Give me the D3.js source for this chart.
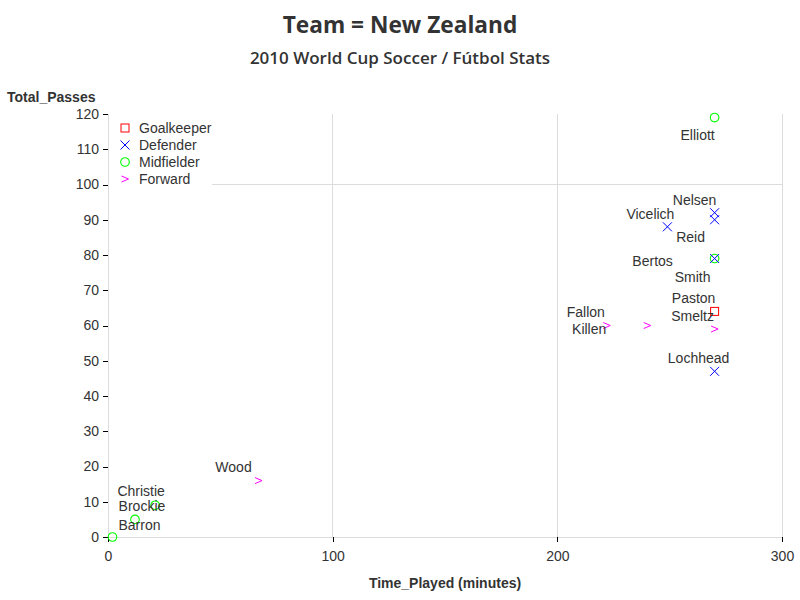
<!DOCTYPE html>
<html><head><meta charset="utf-8">
<script src="https://cdn.jsdelivr.net/npm/d3@7"></script>
<style>body{margin:0;background:#fff}</style>
</head><body>
<svg id="c" width="800" height="600"></svg>
<script>
// ---- data ----
const players = ["Elliott","Nelsen","Reid","Vicelich","Bertos","Smith","Paston","Smeltz","Fallon","Killen","Lochhead","Wood","Christie","Brockie","Barron"];
const positions = ["Midfielder","Defender","Defender","Defender","Midfielder","Defender","Goalkeeper","Forward","Forward","Forward","Defender","Forward","Midfielder","Midfielder","Midfielder"];
const timePlayed = [270,270,270,249,270,270,270,270,222,240,270,67,21,12,2];
const totalPasses = [119,92,90,88,79,79,64,59,60,60,47,16,9,5,0];
const legendItems = ["Goalkeeper","Defender","Midfielder","Forward"];
const xTicks = [0,100,200,300];
const yTicks = [0,10,20,30,40,50,60,70,80,90,100,110,120];
// label placement (pixel offsets of label centre from its marker)
const labelOffsets = [[-17,18],[-20,-13],[-24,17],[-17,-13],[-62,3],[-22,19],[-21,-13],[-22,-13],[-21,-13],[-58,4],[-16,-13],[-25,-14],[-14,-14],[7,-13],[27,-12]];

const colors = {Goalkeeper:"#ff0000",Defender:"#0000ff",Midfielder:"#00ff00",Forward:"#ff00ff"};
const textColor = "#333";
const svg = d3.select("#c");
const m = {l:108, r:782, t:114, b:537};
const x = d3.scaleLinear().domain([0,300]).range([m.l,m.r]);
const y = d3.scaleLinear().domain([0,120]).range([m.b,m.t]);

// gridlines
const grid = svg.append("g").attr("stroke","#dcdcdc").attr("stroke-width",1).attr("shape-rendering","crispEdges");
[100,200,300].forEach(v=>grid.append("line").attr("x1",x(v)).attr("x2",x(v)).attr("y1",m.t).attr("y2",m.b));
[100].forEach(v=>grid.append("line").attr("x1",m.l).attr("x2",m.r).attr("y1",y(v)).attr("y2",y(v)));
// axis lines (light)
grid.append("line").attr("x1",m.l).attr("x2",m.r).attr("y1",m.b).attr("y2",m.b);
grid.append("line").attr("x1",m.l).attr("x2",m.l).attr("y1",m.t).attr("y2",m.b);

// axes
const fontTick = "14px 'Liberation Sans', Arial, sans-serif";
const xAxis = svg.append("g").attr("transform",`translate(0,${m.b})`)
  .call(d3.axisBottom(x).tickValues(xTicks).tickSize(5).tickPadding(6).tickFormat(d3.format("d")));
const yAxis = svg.append("g").attr("transform",`translate(${m.l},0)`)
  .call(d3.axisLeft(y).tickValues(yTicks).tickSize(5).tickPadding(4).tickFormat(d3.format("d")));
[xAxis,yAxis].forEach(a=>{
  a.select(".domain").remove();
  a.selectAll(".tick line").attr("stroke","#000").attr("shape-rendering","crispEdges");
  a.selectAll(".tick text").attr("fill",textColor).style("font",fontTick);
});
xAxis.selectAll(".tick text").attr("dy","0.95em");

// markers
function marker(g, pos){
  const c = colors[pos];
  if(pos==="Goalkeeper") g.append("rect").attr("x",-4).attr("y",-4).attr("width",8).attr("height",8).attr("fill","none").attr("stroke",c);
  else if(pos==="Defender") g.append("path").attr("d","M-4.5,-4.5L4.5,4.5M-4.5,4.5L4.5,-4.5").attr("fill","none").attr("stroke",c);
  else if(pos==="Midfielder") g.append("circle").attr("r",4.3).attr("fill","none").attr("stroke",c).attr("stroke-width",1.1);
  else g.append("path").attr("d","M-3.5,-3L3.5,0L-3.5,3").attr("fill","none").attr("stroke",c);
}

// legend
const lg = svg.append("g");
lg.append("rect").attr("x",m.l+1).attr("y",m.t+1).attr("width",103).attr("height",73).attr("fill","#fff");
legendItems.forEach((p,i)=>{
  const g = lg.append("g").attr("transform",`translate(125,${128+i*17})`);
  marker(g,p);
  g.append("text").attr("x",14).attr("y",0).attr("dy","0.35em").attr("fill",textColor)
    .style("font",fontTick).text(p);
});

// points
const pts = svg.append("g");
players.forEach((n,i)=>{
  const g = pts.append("g").attr("transform",`translate(${x(timePlayed[i])},${y(totalPasses[i])})`);
  marker(g,positions[i]);
});
// labels
const lbl = svg.append("g");
players.forEach((n,i)=>{
  lbl.append("text").attr("x",x(timePlayed[i])+labelOffsets[i][0]).attr("y",y(totalPasses[i])+labelOffsets[i][1])
    .attr("text-anchor","middle").attr("dy","0.35em").attr("fill",textColor).style("font",fontTick).text(n);
});

// titles
svg.append("text").attr("x",400).attr("y",25).attr("dy","0.35em").attr("text-anchor","middle")
  .attr("fill",textColor).style("font","bold 22.7px 'Open Sans', 'Noto Sans', sans-serif").text("Team = New Zealand");
svg.append("text").attr("x",400).attr("y",58).attr("dy","0.35em").attr("text-anchor","middle")
  .attr("fill",textColor).style("font","600 17px 'Open Sans', 'Noto Sans', sans-serif").text("2010 World Cup Soccer / Fútbol Stats");
svg.append("text").attr("x",7).attr("y",97).attr("dy","0.35em").attr("fill",textColor)
  .style("font","bold 14px 'Liberation Sans', Arial, sans-serif").text("Total_Passes");
svg.append("text").attr("x",(m.l+m.r)/2).attr("y",583).attr("dy","0.35em").attr("text-anchor","middle").attr("fill",textColor)
  .style("font","bold 14px 'Liberation Sans', Arial, sans-serif").text("Time_Played (minutes)");
</script>
</body></html>
